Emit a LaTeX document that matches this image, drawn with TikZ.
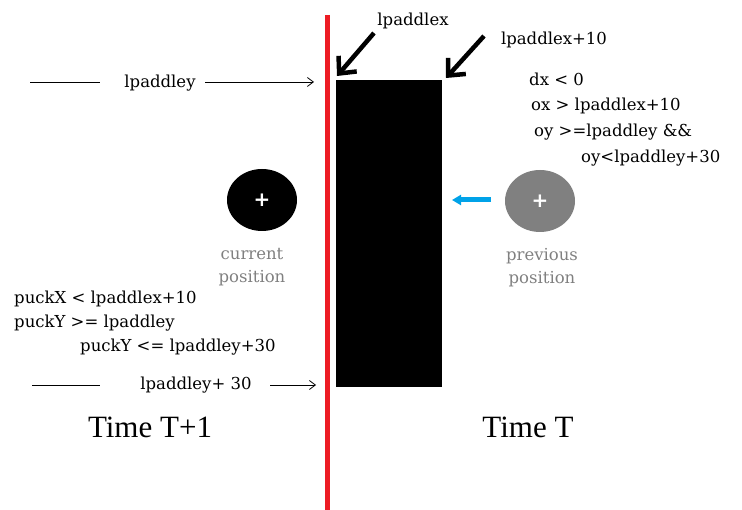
\documentclass[tikz,border=0pt]{standalone}
\usepackage{fontspec}
\setmainfont{Liberation Serif}
\newfontfamily\lblfont{DejaVu Serif}
\newfontfamily\plusfont{DejaVu Sans}
\usetikzlibrary{arrows.meta,shapes.geometric}
\definecolor{redline}{RGB}{237,28,36}
\definecolor{bluearr}{RGB}{0,162,232}
\definecolor{graytxt}{RGB}{128,128,128}
\begin{document}
\begin{tikzpicture}[x=1pt,y=-1pt,
  lbl/.style={font=\lblfont\fontsize{16.5}{20}\selectfont, inner sep=0pt},
  glbl/.style={lbl, text=graytxt, align=center, font=\lblfont\fontsize{16.5}{23}\selectfont},
  big/.style={font=\fontsize{31}{34}\selectfont, inner sep=0pt},
  thinarr/.style={-{Straight Barb[length=6pt,width=9pt]}, line width=0.8pt},
  thickarr/.style={-{Straight Barb[length=13pt,width=24pt]}, line width=4.5pt},
  puck/.style={ellipse, minimum width=70pt, minimum height=62pt, inner sep=0pt}]
\useasboundingbox (0,0) rectangle (742,510);
% red line
\draw[redline, line width=5pt] (327,15) -- (327,510);
% paddle
\fill[black] (336,80) rectangle (442,387);
\coordinate (pTL) at (337,76);
\coordinate (pTR) at (446,78);
% top labels
\node[lbl, anchor=center] (lx) at (413,21) {lpaddlex};
\node[lbl, anchor=center] (lx10) at (554,40) {lpaddlex+10};
\coordinate (a1s) at (374,33);
\coordinate (a2s) at (484,36);
\draw[thickarr] (a1s) -- (pTL);
\draw[thickarr] (a2s) -- (pTR);
% lpaddley
\node[lbl] (ly) at (160,83) {lpaddley};
\coordinate (ly0) at (30,82);
\coordinate (ly1) at (100,82);
\coordinate (ly2) at (205,82);
\coordinate (ly3) at (314,82);
\draw[line width=0.8pt] (ly0) -- (ly1);
\draw[thinarr] (ly2) -- (ly3);
% lpaddley+30
\node[lbl] (ly30) at (196,385) {lpaddley+ 30};
\coordinate (lz0) at (32,385);
\coordinate (lz1) at (100,385);
\coordinate (lz2) at (270,385);
\coordinate (lz3) at (316,385);
\draw[line width=0.8pt] (lz0) -- (lz1);
\draw[thinarr] (lz2) -- (lz3);
% right conditions
\node[lbl, anchor=west] (c1) at (529,79) {dx < 0};
\node[lbl, anchor=west] (c2) at (531,106) {ox > lpaddlex+10};
\node[lbl, anchor=west] (c3) at (534,132) {oy >=lpaddley \&\&};
\node[lbl, anchor=west] (c4) at (581,158) {oy<lpaddley+30};
% left conditions
\node[lbl, anchor=west] (d1) at (14,299) {puckX < lpaddlex+10};
\node[lbl, anchor=west] (d2) at (14,323) {puckY >= lpaddley};
\node[lbl, anchor=west] (d3) at (80,347) {puckY <= lpaddley+30};
% pucks
\node[puck, fill=black, text=white, font=\plusfont\bfseries\fontsize{20}{20}\selectfont] (cur) at (262,200) {+};
\node[puck, fill=graytxt, text=white, font=\plusfont\bfseries\fontsize{20}{20}\selectfont] (prev) at (540,201) {+};
\node[glbl, anchor=north] (curl) at (252,248) {current\\position};
\node[glbl, anchor=north] (prevl) at (542,248) {previous\\position};
% blue arrow
\coordinate (b0) at (491,200);
\coordinate (b1) at (452,200);
\draw[bluearr, line width=5pt, -{Triangle[length=9pt,width=10pt]}] (b0) -- (b1);
% time labels
\node[big] (t1) at (150,427) {Time T+1};
\node[big] (t0) at (528,427) {Time T};
\end{tikzpicture}
\end{document}
